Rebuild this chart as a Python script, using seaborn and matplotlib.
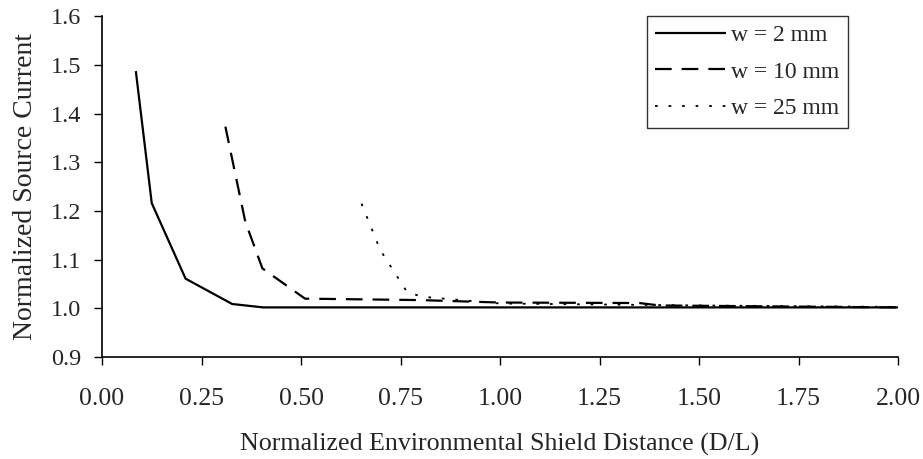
import matplotlib
matplotlib.use("Agg")
import matplotlib.pyplot as plt
import seaborn as sns
import pandas as pd

sns.set_style("ticks")
plt.rcParams['font.family'] = ['Liberation Serif', 'DejaVu Serif']

x_w2 = [0.085, 0.125, 0.21, 0.327, 0.405, 0.5, 1.0, 1.5, 2.0]
y_w2 = [1.487, 1.216, 1.061, 1.009, 1.002, 1.002, 1.002, 1.002, 1.002]

x_w10 = [0.31, 0.36, 0.403, 0.51, 0.8, 1.0, 1.35, 1.4, 2.0]
y_w10 = [1.373, 1.178, 1.082, 1.020, 1.017, 1.012, 1.011, 1.006, 1.002]

x_w25 = [0.652, 0.699, 0.766, 0.803, 1.0, 1.5, 2.0]
y_w25 = [1.215, 1.120, 1.034, 1.024, 1.010, 1.006, 1.003]

labels = ["w = 2 mm", "w = 10 mm", "w = 25 mm"]

df = pd.concat([
    pd.DataFrame({"D/L": x_w2, "I": y_w2, "w": labels[0]}),
    pd.DataFrame({"D/L": x_w10, "I": y_w10, "w": labels[1]}),
    pd.DataFrame({"D/L": x_w25, "I": y_w25, "w": labels[2]}),
], ignore_index=True)

fig = plt.figure(figsize=(9.23, 4.59), dpi=100)
ax = fig.add_axes([0.1105, 0.222, 0.8625, 0.743])

styles = {labels[0]: (0, ()), labels[1]: (0, (7.5, 4.5)), labels[2]: (0, (1.5, 6))}
widths = {labels[0]: 1.6, labels[1]: 1.6, labels[2]: 1.3}
for lab in labels:
    sub = df[df["w"] == lab]
    sns.lineplot(data=sub, x="D/L", y="I", ax=ax, color="black", sort=False,
                 linewidth=widths[lab], linestyle=styles[lab], label=lab,
                 estimator=None)

ax.set_xlim(0, 2.0)
ax.set_ylim(0.9, 1.6)
xt = [0, 0.25, 0.5, 0.75, 1.0, 1.25, 1.5, 1.75, 2.0]
yt = [0.9, 1.0, 1.1, 1.2, 1.3, 1.4, 1.5, 1.6]
ax.set_xticks(xt)
ax.set_xticklabels([f"{v:.2f}" for v in xt])
ax.set_yticks(yt)
ax.set_yticklabels([f"{v:.1f}" for v in yt])
ax.tick_params(axis="both", direction="out", length=6, width=1, color="black")
ax.tick_params(axis="x", labelsize=18.5, pad=16)
ax.tick_params(axis="y", labelsize=17.5, pad=9)
for s in ["top", "right"]:
    ax.spines[s].set_visible(False)
for s in ["left", "bottom"]:
    ax.spines[s].set_color("black")
    ax.spines[s].set_linewidth(1.2)

ax.set_xlabel("Normalized Environmental Shield Distance (D/L)", fontsize=18.7, labelpad=17)
ax.set_ylabel("Normalized Source Current", fontsize=20, labelpad=9)

leg = ax.legend(loc="upper right", bbox_to_anchor=(0.937, 1.0), fontsize=17,
                frameon=True, fancybox=False, edgecolor="black", handlelength=3.0,
                handletextpad=0.2, borderpad=0.37, labelspacing=0.63, borderaxespad=0)
leg.get_frame().set_linewidth(1.0)

fig.savefig("out.png", dpi=100, facecolor="white")
